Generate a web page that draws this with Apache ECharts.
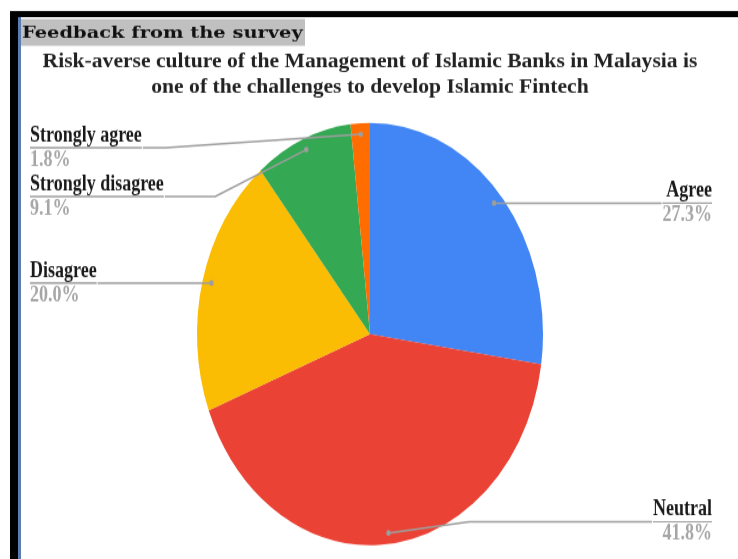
<!DOCTYPE html>
<html>
<head>
<meta charset="utf-8">
<script src="https://cdn.jsdelivr.net/npm/echarts@6/dist/echarts.min.js"></script>
<style>
  html, body { margin: 0; padding: 0; background: #fff; overflow: hidden; }
  #wrap { width: 738px; height: 559px; position: relative; overflow: hidden; }
  /* the whole figure is laid out at 458px tall and stretched to 559px */
  #chart { width: 738px; height: 458px; transform: scaleY(1.2205); transform-origin: 0 0; }
</style>
</head>
<body>
<div id="wrap"><div id="chart"></div></div>
<script>
// survey answers, clockwise from 12 o'clock
const categories = ['Agree', 'Neutral', 'Disagree', 'Strongly disagree', 'Strongly agree'];
const shares = [27.3, 41.8, 20.0, 9.1, 1.8];
const sliceColors = ['#4285f4', '#ea4335', '#fbbc04', '#34a853', '#ff6d01'];
const headerText = 'Feedback from the survey';
const titleLines = [
  'Risk-averse culture of the Management of Islamic Banks in Malaysia is',
  'one of the challenges to develop Islamic Fintech'
];

const serif = 'Liberation Serif';
const lineGrey = '#9e9e9e';
// pie box: labels are kept between its top and bottom
const pieBox = { left: 0, right: 0, top: 101, bottom: 10.5 };
const center = [370, 172.7];
const pieRadius = 173;
const anchorRadius = 164;

const pieData = categories.map((name, i) => ({
  name: name,
  value: shares[i],
  itemStyle: { color: sliceColors[i] }
}));

// label carrier: same shares, invisible slices, slightly smaller radius so the
// leader lines start just inside the visible slices
const labelData = categories.map((name, i) => ({
  name: name,
  value: shares[i],
  label: { edgeDistance: (i === 0 || i === 1) ? 26 : 30 }
}));

// small dots where the leader lines start (mid-angle of each slice)
const total = shares.reduce((a, b) => a + b, 0);
let acc = 0;
const anchorDots = shares.map(v => {
  const mid = (acc + v / 2) / total * Math.PI * 2;
  acc += v;
  return {
    type: 'circle',
    silent: true,
    z: 10,
    shape: {
      cx: center[0] + Math.sin(mid) * anchorRadius,
      cy: pieBox.top + center[1] - Math.cos(mid) * anchorRadius,
      r: 2.3
    },
    style: { fill: lineGrey }
  };
});

// text is widened to undo the vertical stretch of the container
const titleGraphics = titleLines.map((line, i) => ({
  type: 'text',
  x: 370,
  y: 50.6 + i * 20.8,
  scaleX: 1.25,
  silent: true,
  style: {
    text: line,
    fill: '#222222',
    fontFamily: serif,
    fontWeight: 'bold',
    fontSize: 17.3,
    align: 'center',
    verticalAlign: 'middle'
  }
}));

const chart = echarts.init(document.getElementById('chart'), null, { renderer: 'canvas' });

chart.setOption({
  backgroundColor: '#ffffff',
  animation: false,
  graphic: [
    { type: 'rect', shape: { x: 10, y: 9, width: 728, height: 5 }, style: { fill: '#000000' }, silent: true },
    { type: 'rect', shape: { x: 10, y: 9, width: 8, height: 460 }, style: { fill: '#000000' }, silent: true },
    { type: 'rect', shape: { x: 18, y: 14, width: 3, height: 460 }, style: { fill: '#5b7db1' }, silent: true },
    { type: 'rect', shape: { x: 21, y: 15.6, width: 284, height: 22 }, style: { fill: '#c0c0c0' }, silent: true },
    {
      type: 'text', x: 22, y: 27.3, scaleX: 1.44, silent: true,
      style: {
        text: headerText, fill: '#111111',
        fontFamily: 'DejaVu Serif',
        fontWeight: 'bold',
        fontSize: 13.5,
        verticalAlign: 'middle', align: 'left'
      }
    }
  ].concat(titleGraphics, anchorDots),
  series: [
    Object.assign({
      type: 'pie',
      center: center,
      radius: pieRadius,
      startAngle: 90,
      clockwise: true,
      silent: true,
      label: { show: false },
      labelLine: { show: false },
      itemStyle: { borderWidth: 0 },
      data: pieData
    }, pieBox),
    Object.assign({
      type: 'pie',
      center: center,
      radius: anchorRadius,
      startAngle: 90,
      clockwise: true,
      silent: true,
      z: 5,
      itemStyle: { color: 'rgba(0,0,0,0)', borderWidth: 0 },
      label: {
        show: true,
        position: 'outer',
        alignTo: 'edge',
        distanceToLabelLine: 0,
        formatter: p => '{name|' + p.name + '}\n{hr|}\n{pct|' + p.value.toFixed(1) + '%}',
        rich: {
          name: { fontFamily: serif, fontWeight: 'bold', fontSize: 18, lineHeight: 20, color: '#1a1a1a' },
          hr: { width: '100%', height: 0, borderWidth: 1, borderColor: lineGrey },
          pct: { fontFamily: serif, fontWeight: 'bold', fontSize: 18, lineHeight: 20, color: '#a6a6a6' }
        }
      },
      labelLine: {
        show: true,
        length: 0,
        length2: 10,
        lineStyle: { color: lineGrey, width: 1.5 }
      },
      data: labelData
    }, pieBox)
  ]
});
</script>
</body>
</html>
